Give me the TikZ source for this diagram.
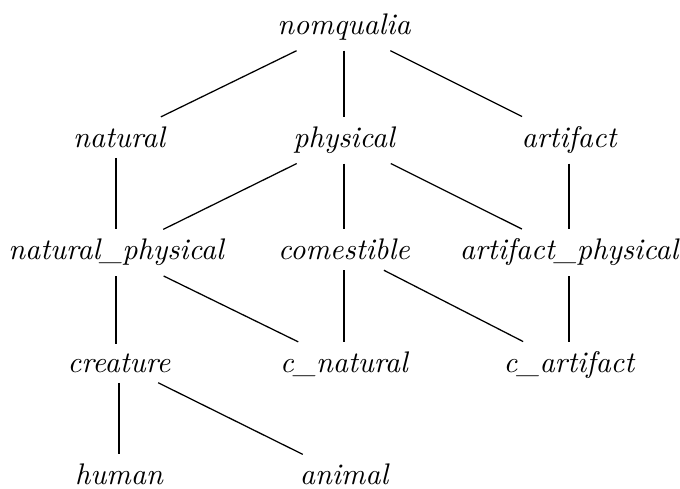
\documentclass[tikz,border=0pt]{standalone}
\begin{document}
\begin{tikzpicture}[x=0.125mm,y=-0.125mm,
  lbl/.style={font=\itshape\fontsize{10.6}{12.5}\selectfont, anchor=base},
  edge/.style={draw=black, line width=0.45pt}]
\useasboundingbox (0,0) rectangle (680,489);
\node[lbl] (nom) at (344,35) {nomqualia};
\node[lbl] (nat) at (119,147.5) {natural};
\node[lbl] (phy) at (344,147.5) {physical};
\node[lbl] (art) at (569,147.5) {artifact};
\node[lbl] (natphy) at (116,260) {natural\_physical};
\node[lbl] (com) at (344,260) {comestible};
\node[lbl] (artphy) at (569,260) {artifact\_physical};
\node[lbl] (cre) at (119,372.5) {creature};
\node[lbl] (cnat) at (344,372.5) {c\_natural};
\node[lbl] (cart) at (569,372.5) {c\_artifact};
\node[lbl] (hum) at (119,485) {human};
\node[lbl] (ani) at (344,485) {animal};
\draw[edge] (nom) -- (nat);
\draw[edge] (nom) -- (phy);
\draw[edge] (nom) -- (art);
\draw[edge] (nat.south -| natphy.north) -- (natphy.north);
\draw[edge] (phy) -- (natphy);
\draw[edge] (phy) -- (com);
\draw[edge] (phy) -- (artphy);
\draw[edge] (art) -- (artphy);
\draw[edge] (natphy.south) -- (natphy.south |- cre.north);
\draw[edge] (natphy) -- (cnat);
\draw[edge] (com) -- (cnat);
\draw[edge] (com) -- (cart);
\draw[edge] (artphy) -- (cart);
\draw[edge] (cre.south -| hum.north) -- (hum.north);
\draw[edge] (cre) -- (ani);
\end{tikzpicture}
\end{document}
